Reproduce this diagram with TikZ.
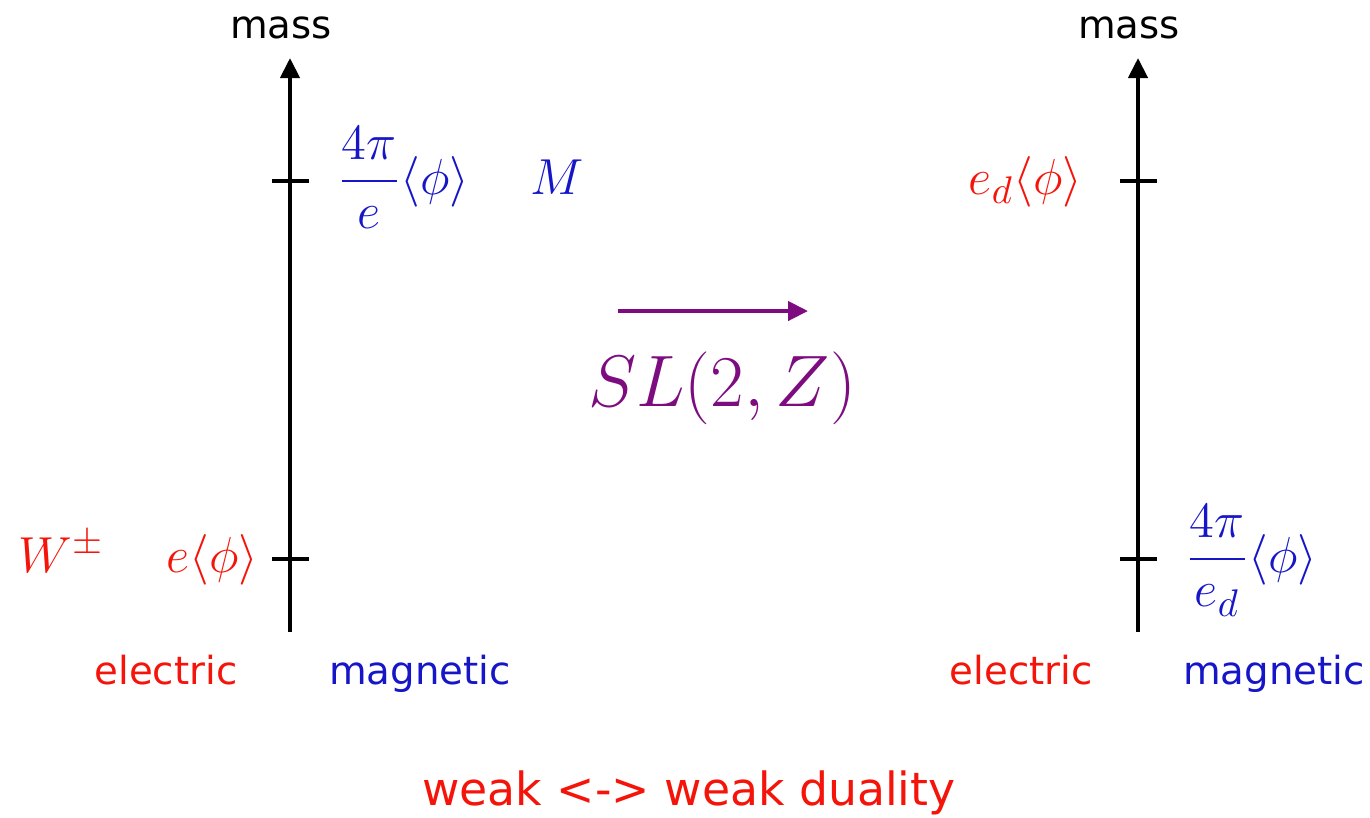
\documentclass[tikz,border=0pt]{standalone}
\usepackage{fontspec}
\setsansfont{DejaVu Sans}
\usepackage{amsmath}
\usetikzlibrary{arrows.meta}
\definecolor{elec}{HTML}{F5140A}
\definecolor{magn}{HTML}{1616C8}
\definecolor{dual}{HTML}{7D0C80}

\begin{document}
\begin{tikzpicture}[x=0.01cm,y=-0.01cm,
  axis/.style={line width=1.2pt,-{Triangle[length=0.2cm,width=0.19cm]}},
  tickline/.style={line width=1.2pt},
  word/.style={font=\fontsize{11}{13}\selectfont\sffamily,inner sep=0pt,anchor=base},
  sym/.style={font=\fontsize{15.3}{18}\selectfont,inner sep=0pt}]
  \useasboundingbox (0,0) rectangle (1370,817);
  % the two mass axes with their ticks
  \foreach \ax/\xx in {l/290, r/1138}{
    \coordinate (\ax bot) at (\xx,632);
    \coordinate (\ax top) at (\xx,58);
    \draw[axis] (\ax bot) -- (\ax top);
    \node[word] (\ax mass) at (\xx-9,38) {mass};
    \foreach \lev/\yy in {hi/181, lo/559}{
      \coordinate (\ax\lev) at (\xx,\yy);
      \draw[tickline] ([xshift=-0.18cm]\ax\lev) -- ([xshift=0.19cm]\ax\lev);
    }
  }
  % left side
  \node[sym,text=magn,anchor=base west] (lmono) at (337,194) {$\dfrac{4\pi}{e}\langle\phi\rangle$};
  \node[sym,text=magn,anchor=base west] (lmname) at (530,194) {$M$};
  \node[sym,text=elec,anchor=base east] (lwmass) at (259,572) {$e\langle\phi\rangle$};
  \node[sym,text=elec,anchor=base west] (lwname) at (18,572) {$W^{\pm}$};
  \node[word,text=elec] (lelec) at (166,684) {electric};
  \node[word,text=magn] (lmagn) at (420,684) {magnetic};
  % right side
  \node[sym,text=elec,anchor=base east] (rwmass) at (1083,194) {$e_d\langle\phi\rangle$};
  \node[sym,text=magn,anchor=base west] (rmono) at (1185,572) {$\dfrac{4\pi}{e_d}\langle\phi\rangle$};
  \node[word,text=elec] (relec) at (1021,684) {electric};
  \node[word,text=magn] (rmagn) at (1274,684) {magnetic};
  % the duality map
  \coordinate (dstart) at (618,311);
  \coordinate (dend) at (808,311);
  \draw[dual,line width=1.2pt,-{Triangle[length=0.2cm,width=0.19cm]}] (dstart) -- (dend);
  \node[font=\fontsize{20.7}{24}\selectfont,text=dual,inner sep=0pt,anchor=base] (group) at (722,406) {$SL(2,Z)$};
  \node[word,font=\fontsize{13}{15}\selectfont\sffamily,text=elec] (title) at (689,805) {weak <-> weak duality};
\end{tikzpicture}
\end{document}
